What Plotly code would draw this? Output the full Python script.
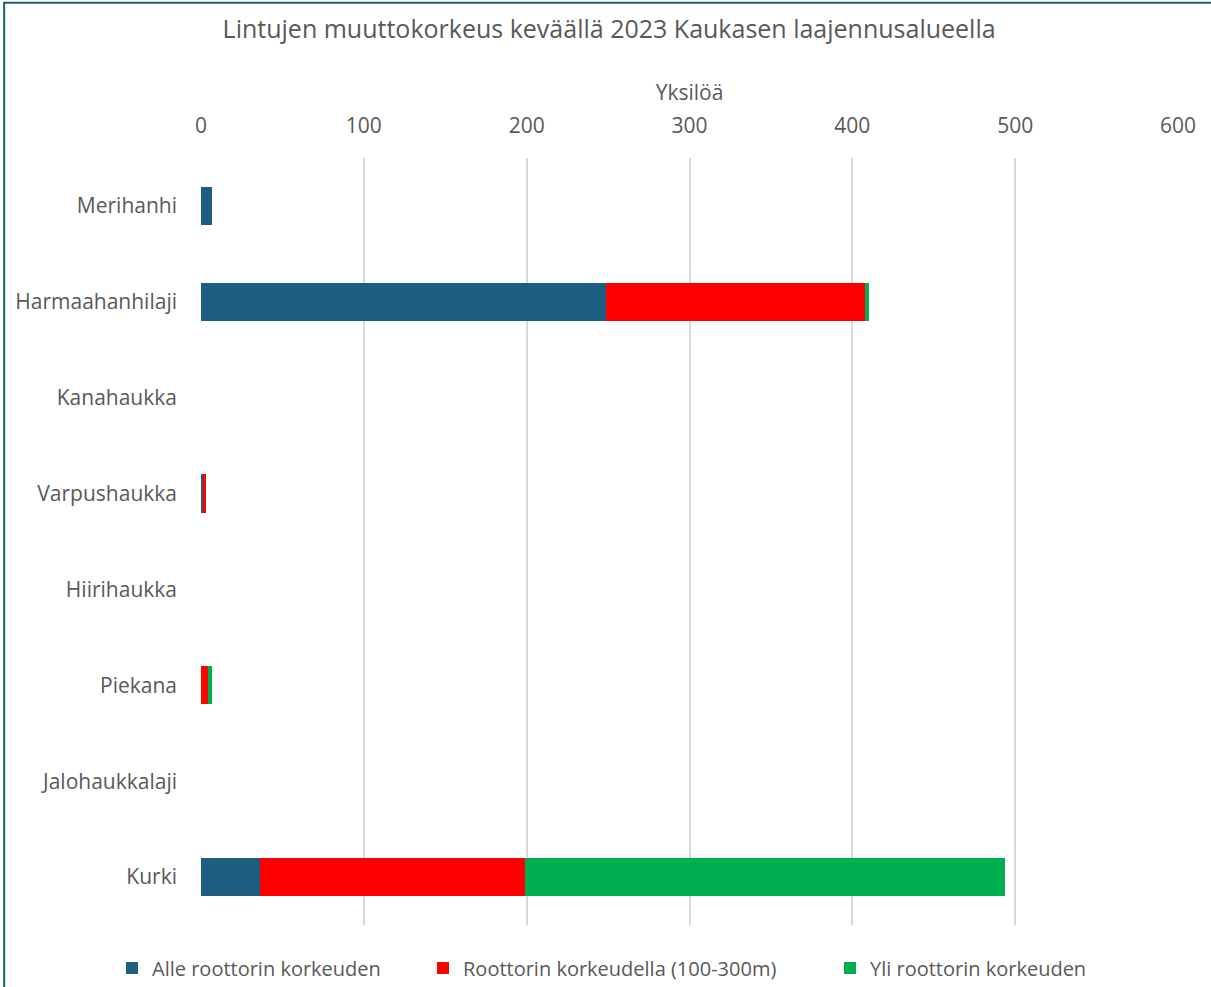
import plotly.graph_objects as go

# Species (top to bottom) and counts per flight-height class
lajit = ["Merihanhi", "Harmaahanhilaji", "Kanahaukka", "Varpushaukka",
         "Hiirihaukka", "Piekana", "Jalohaukkalaji", "Kurki"]
alle = [7, 249, 0, 1, 0, 0, 0, 36]
roottori = [0, 159, 0, 2, 0, 4, 0, 163]
yli = [0, 2, 0, 0, 0, 3, 0, 295]

sarjat = ["Alle roottorin korkeuden", "Roottorin korkeudella (100-300m)", "Yli roottorin korkeuden"]
varit = ["#1b5e7f", "#ff0000", "#00b050"]
tick_vals = [0, 100, 200, 300, 400, 500, 600]

W, H = 1211, 987
# each series gets its own legend box so the entries can be spaced freely
legend_ids = ["legend", "legend2", "legend3"]
legend_left_px = [112, 423, 830]

fig = go.Figure()
for nimi, arvot, vari, lid in zip(sarjat, [alle, roottori, yli], varit, legend_ids):
    fig.add_trace(go.Bar(
        y=lajit, x=arvot, name=nimi, orientation="h",
        marker=dict(color=vari, line=dict(width=0)),
        legend=lid, showlegend=True,
    ))

legend_style = dict(
    orientation="h", xref="container", xanchor="left",
    yref="container", y=(H - 968) / H, yanchor="middle",
    font=dict(size=20, color="#595959"), itemwidth=30,
    bgcolor="rgba(0,0,0,0)",
)

fig.update_layout(
    showlegend=True,
    barmode="stack",
    bargap=0.6,
    width=W, height=H,
    margin=dict(l=201, r=33, t=158, b=62, autoexpand=False),
    paper_bgcolor="white", plot_bgcolor="white",
    font=dict(family="Open Sans, sans-serif", color="#595959", size=21),
    title=dict(
        text="Lintujen muuttokorkeus keväällä 2023 Kaukasen laajennusalueella",
        x=0.503, xanchor="center", y=0.97, yanchor="middle",
        font=dict(size=25, color="#595959"),
    ),
    xaxis=dict(
        side="top", range=[0, 600], tickvals=tick_vals,
        showgrid=True, gridcolor="#d9d9d9", gridwidth=2,
        zeroline=False, showline=False, ticks="",
        ticklabelstandoff=20, tickfont=dict(size=21),
        title=dict(text="Yksilöä", standoff=4, font=dict(size=21)),
        fixedrange=True,
    ),
    yaxis=dict(
        autorange="reversed", showgrid=False, zeroline=False,
        showline=False, ticks="", ticklabelstandoff=23,
        tickfont=dict(size=21),
        fixedrange=True,
    ),
    legend=dict(legend_style, x=legend_left_px[0] / W),
    legend2=dict(legend_style, x=legend_left_px[1] / W),
    legend3=dict(legend_style, x=legend_left_px[2] / W),
    shapes=[dict(
        type="rect", xref="paper", yref="paper",
        x0=-0.2015, x1=1.05, y0=-0.2, y1=1.2025,
        line=dict(color="#1f5f75", width=2), fillcolor="rgba(0,0,0,0)",
        layer="above",
    )],
)

fig.write_html("out.html")
